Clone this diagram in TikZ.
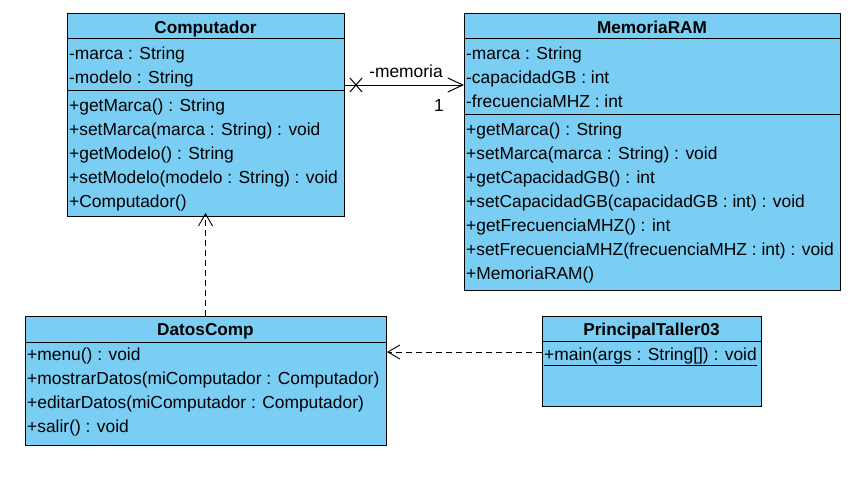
\documentclass[tikz,border=0pt]{standalone}
\usepackage{fontspec}
\setmainfont{Liberation Sans}
\usetikzlibrary{arrows.meta}
\definecolor{umlblue}{RGB}{122,206,244}
\begin{document}
\begin{tikzpicture}[x=1pt,y=-1pt,
  cls/.style={draw=black, fill=umlblue, line width=1pt, anchor=north west, inner sep=0pt, outer sep=0pt},
  txt/.style={anchor=base west, inner sep=0pt, font=\fontsize{17.4}{20}\selectfont},
  hdr/.style={anchor=base, inner sep=0pt, font=\fontsize{17.2}{20}\selectfont\bfseries},
  sepline/.style={line width=1pt},
  dep/.style={line width=0.9pt, dash pattern=on 6pt off 4pt, -{Straight Barb[length=12pt,width=14pt,line width=0.9pt]}},
  assoc/.style={line width=1pt, -{Straight Barb[length=15pt,width=14pt,line width=1pt]}},
]
\useasboundingbox (0,0) rectangle (854,479);
\fill[white] (0,0) rectangle (854,479);

% ---------- Computador ----------
\node[cls, minimum width=277pt, minimum height=203pt] (comp) at (67,13) {};
\draw[sepline] (67,38) -- (344,38);
\draw[sepline] (67,90) -- (344,90);
\node[hdr] (compH) at (205.5,33) {Computador};
\node[txt] (c1) at (69,59) {-marca : String};
\node[txt] (c2) at (69,83) {-modelo : String};
\node[txt] (c3) at (69,111) {+getMarca() : String};
\node[txt] (c4) at (69,135) {+setMarca(marca : String) : void};
\node[txt] (c5) at (69,159) {+getModelo() : String};
\node[txt] (c6) at (69,183) {+setModelo(modelo : String) : void};
\node[txt] (c7) at (69,207) {+Computador()};

% ---------- MemoriaRAM ----------
\node[cls, minimum width=376pt, minimum height=277pt] (ram) at (464,13) {};
\draw[sepline] (464,38) -- (840,38);
\draw[sepline] (464,114) -- (840,114);
\node[hdr] (ramH) at (652,33) {MemoriaRAM};
\node[txt] (r1) at (466,59) {-marca : String};
\node[txt] (r2) at (466,83) {-capacidadGB : int};
\node[txt] (r3) at (466,107) {-frecuenciaMHZ : int};
\node[txt] (r4) at (466,135) {+getMarca() : String};
\node[txt] (r5) at (466,159) {+setMarca(marca : String) : void};
\node[txt] (r6) at (466,183) {+getCapacidadGB() : int};
\node[txt] (r7) at (466,207) {+setCapacidadGB(capacidadGB : int) : void};
\node[txt] (r8) at (466,231) {+getFrecuenciaMHZ() : int};
\node[txt] (r9) at (466,255) {+setFrecuenciaMHZ(frecuenciaMHZ : int) : void};
\node[txt] (r10) at (466,279) {+MemoriaRAM()};

% ---------- DatosComp ----------
\node[cls, minimum width=361pt, minimum height=129pt] (datos) at (25,316) {};
\draw[sepline] (25,342) -- (386,342);
\node[hdr] (datosH) at (205.5,335) {DatosComp};
\node[txt] (d1) at (27,360) {+menu() : void};
\node[txt] (d2) at (27,384) {+mostrarDatos(miComputador : Computador)};
\node[txt] (d3) at (27,408) {+editarDatos(miComputador : Computador)};
\node[txt] (d4) at (27,432) {+salir() : void};

% ---------- PrincipalTaller03 ----------
\node[cls, minimum width=219pt, minimum height=90pt] (princ) at (542,316) {};
\draw[sepline] (542,341) -- (761,341);
\node[hdr] (princH) at (651.5,335) {PrincipalTaller03};
\node[txt] (p1) at (544,360) {+main(args : String[]) : void};
\draw[line width=1pt] (p1.base west) ++(0,5) coordinate (u1) -- (u1 -| p1.east);

% ---------- Association Computador -> MemoriaRAM ----------
\coordinate (assocY) at (0,85);
\draw[assoc] (comp.east |- assocY) -- (ram.west |- assocY);
\coordinate (xm) at ([xshift=12pt]comp.east |- assocY);
\draw[line width=1pt] (xm) ++(-6,-7) -- ++(12,14);
\draw[line width=1pt] (xm) ++(-6,7) -- ++(12,-14);
\node[font=\fontsize{17.4}{20}\selectfont, inner sep=0pt] (lblmem) at (406,71) {-memoria};
\node[font=\fontsize{17.4}{20}\selectfont, inner sep=0pt] (lblone) at (439,106) {1};

% ---------- Dependencies ----------
\draw[dep] (datos.north -| datosH) -- ([yshift=3pt]comp.south -| datosH);
\coordinate (depY) at (0,352);
\draw[dep] (princ.west |- depY) -- ([xshift=1pt]datos.east |- depY);
\end{tikzpicture}
\end{document}
